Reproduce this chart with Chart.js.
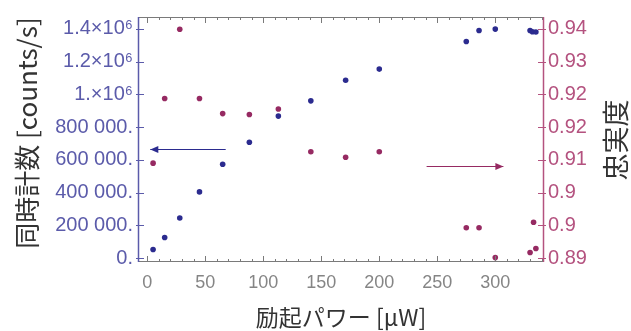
<!DOCTYPE html>
<html><head><meta charset="utf-8">
<script src="https://cdn.jsdelivr.net/npm/chart.js@4.4.1/dist/chart.umd.min.js"></script>
<style>html,body{margin:0;padding:0;background:#fff}#wrap{width:631px;height:331px}</style>
</head><body><div id="wrap"><canvas id="c" width="631" height="331"></canvas></div>
<script>
// ---- data ----
const powerCounts = [5, 15, 28, 45, 65, 88, 113, 141, 171, 200, 275, 286, 300, 330, 332, 335];
const coincidenceCounts = [52000, 126000, 245000, 404000, 573000, 707000, 867000, 960000, 1086000, 1154000, 1322000, 1390000, 1398000, 1390000, 1382000, 1380000];
const powerFidelity = [5, 15, 28, 45, 65, 88, 113, 141, 171, 200, 275, 286, 300, 330, 333, 335];
const fidelity = [0.9107, 0.9248, 0.9399, 0.9248, 0.9215, 0.9213, 0.9225, 0.9132, 0.9120, 0.9132, 0.8966, 0.8966, 0.8901, 0.8912, 0.8978, 0.8921];
const xTicks = [0, 50, 100, 150, 200, 250, 300];
const leftTicks = [0, 200000, 400000, 600000, 800000, 1000000, 1200000, 1400000];
const leftTickLabels = ["0.", "200 000.", "400 000.", "600 000.", "800 000.", "1.\u00d710\u2076", "1.2\u00d710\u2076", "1.4\u00d710\u2076"];
const rightTicks = [0.89, 0.89714, 0.90429, 0.91143, 0.91857, 0.92571, 0.93286, 0.94];
const rightTickLabels = ["0.89", "0.9", "0.9", "0.91", "0.92", "0.92", "0.93", "0.94"];
const xTitle = "励起パワー [μW]";
const leftTitle = "同時計数 [counts/s]";
const rightTitle = "忠実度";
// arrows in data coordinates: [xFrom, xTo, y]
const blueArrow = [67.6, 2.6, 663000];
const redArrow = [240.8, 307, 0.9101];

const BLUE = '#2b2b8f', RED = '#962a62';
const LEFTC = '#5b5baa', RIGHTC = '#b4527f', GRAY = '#7a7a7a';
const FONT = "'Liberation Sans', Arial, sans-serif";
const CJK = "'Noto Sans CJK JP', sans-serif";

const framePlugin = {
  id: 'frame',
  afterDraw(chart) {
    const ctx = chart.ctx, a = chart.chartArea;
    const xs = chart.scales.x, yl = chart.scales.y, yr = chart.scales.y2;
    ctx.save();
    ctx.lineWidth = 1;
    const line = (c, x1, y1, x2, y2) => { ctx.strokeStyle = c; ctx.beginPath(); ctx.moveTo(x1, y1); ctx.lineTo(x2, y2); ctx.stroke(); };
    // frame
    line(GRAY, a.left, a.top + 0.5, a.right, a.top + 0.5);
    line(GRAY, a.left, a.bottom - 0.5, a.right, a.bottom - 0.5);
    ctx.lineWidth = 1.5;
    line(LEFTC, a.left + 0.5, a.top, a.left + 0.5, a.bottom);
    line(RIGHTC, a.right - 0.5, a.top, a.right - 0.5, a.bottom);
    ctx.lineWidth = 1;
    // x minor/major ticks
    for (let v = 0; v <= 340; v += 10) {
      const px = Math.round(xs.getPixelForValue(v)) + 0.5;
      const len = (v % 50 === 0) ? 6 : 3;
      line(GRAY, px, a.bottom, px, a.bottom - len);
      line(GRAY, px, a.top, px, a.top + len);
    }
    leftTicks.forEach(v => { const py = Math.round(yl.getPixelForValue(v)) + 0.5; line(LEFTC, a.left - 2, py, a.left + 6, py); });
    rightTicks.forEach(v => { const py = Math.round(yr.getPixelForValue(v)) + 0.5; line(RIGHTC, a.right - 6, py, a.right + 2, py); });
    // arrows
    const arrow = (c, x1, x2, y) => {
      ctx.strokeStyle = c; ctx.fillStyle = c; ctx.lineWidth = 1;
      ctx.beginPath(); ctx.moveTo(x1, y); ctx.lineTo(x2, y); ctx.stroke();
      const d = Math.sign(x2 - x1);
      ctx.beginPath(); ctx.moveTo(x2, y); ctx.lineTo(x2 - d * 8, y - 3.5); ctx.lineTo(x2 - d * 8, y + 3.5); ctx.closePath(); ctx.fill();
    };
    arrow(BLUE, xs.getPixelForValue(blueArrow[0]), xs.getPixelForValue(blueArrow[1]), Math.round(yl.getPixelForValue(blueArrow[2])) + 0.5);
    arrow(RED, xs.getPixelForValue(redArrow[0]), xs.getPixelForValue(redArrow[1]), Math.round(yr.getPixelForValue(redArrow[2])) + 0.5);
    // vertical titles reading bottom-to-top
    ctx.fillStyle = '#333';
    ctx.textAlign = 'center'; ctx.textBaseline = 'middle';
    ctx.save();
    ctx.font = "26px " + CJK;
    ctx.translate(27, 133);
    ctx.rotate(-Math.PI / 2);
    ctx.fillText(leftTitle, 0, 0);
    ctx.restore();
    ctx.save();
    ctx.font = "27px " + CJK;
    ctx.translate(616, 140);
    ctx.rotate(-Math.PI / 2);
    ctx.fillText(rightTitle, 0, 0);
    ctx.restore();
    ctx.restore();
  }
};

new Chart(document.getElementById('c'), {
  type: 'scatter',
  data: {
    datasets: [
      { label: 'counts', data: powerCounts.map((x, i) => ({ x, y: coincidenceCounts[i] })), yAxisID: 'y',
        backgroundColor: BLUE, borderColor: BLUE, pointRadius: 2.8, borderWidth: 0 },
      { label: 'fidelity', data: powerFidelity.map((x, i) => ({ x, y: fidelity[i] })), yAxisID: 'y2',
        backgroundColor: RED, borderColor: RED, pointRadius: 2.8, borderWidth: 0 }
    ]
  },
  options: {
    responsive: false, animation: false, devicePixelRatio: 1,
    layout: { padding: { top: 13, left: 0, right: 0, bottom: 0 } },
    plugins: { legend: { display: false }, tooltip: { enabled: false } },
    scales: {
      x: {
        type: 'linear', min: -8, max: 342,
        afterBuildTicks: s => { s.ticks = xTicks.map(v => ({ value: v })); },
        afterFit: s => { s.height = 69; },
        grid: { display: false, drawTicks: false }, border: { display: false },
        ticks: { color: '#858585', font: { family: FONT, size: 18 }, padding: 10, maxRotation: 0, autoSkip: false },
        title: { display: true, text: xTitle, color: '#333', font: { family: CJK, size: 23 }, padding: { top: 0, bottom: 0 } }
      },
      y: {
        type: 'linear', position: 'left', min: -24000, max: 1472000,
        afterBuildTicks: s => { s.ticks = leftTicks.map(v => ({ value: v })); },
        afterFit: s => { s.width = 138; },
        grid: { display: false, drawTicks: false }, border: { display: false },
        ticks: { color: LEFTC, font: { family: FONT, size: 20 }, padding: 5, autoSkip: false,
          callback: (v, i) => leftTickLabels[i] }
      },
      y2: {
        type: 'linear', position: 'right', min: 0.889143, max: 0.942571,
        afterBuildTicks: s => { s.ticks = rightTicks.map(v => ({ value: v })); },
        afterFit: s => { s.width = 87; },
        grid: { display: false, drawTicks: false }, border: { display: false },
        ticks: { color: RIGHTC, font: { family: FONT, size: 20 }, padding: 4, autoSkip: false,
          callback: (v, i) => rightTickLabels[i] }
      }
    }
  },
  plugins: [framePlugin]
});
</script></body></html>
